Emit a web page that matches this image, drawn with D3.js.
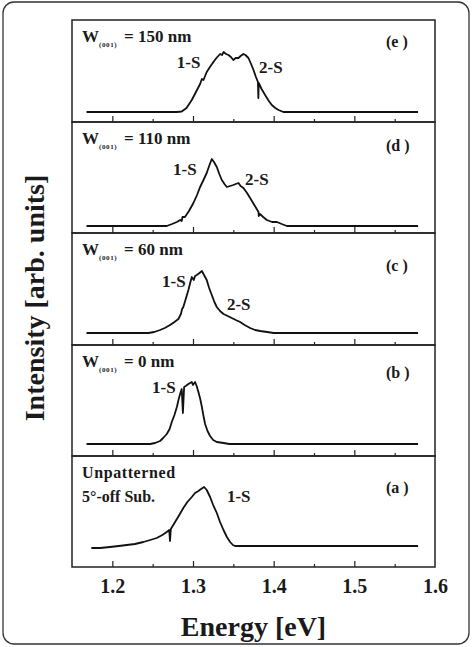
<!DOCTYPE html>
<head>
  <meta charset="utf-8">
  <script src="https://d3js.org/d3.v7.min.js"></script>
  <style>
    body { margin: 0; background: #fff; }
    text { font-family: "Liberation Serif", "Times New Roman", Times, Tinos, serif; font-weight: 700; fill: #1a1a1a; }
  </style>
</head>
<body>
<div id="chart"></div>
<script>
// spectra, top panel (e) first; [energy eV, intensity arb.]
var spectrumE = [[1.168,0],[1.28,0],[1.286,0.5],[1.292,4],[1.2985,12],[1.303,19],[1.3088,28],[1.311,33],[1.313,32],[1.317,40],[1.321,45],[1.3253,50],[1.329,54],[1.3336,58],[1.336,57],[1.338,60],[1.341,58],[1.344,57],[1.347,55],[1.350,52],[1.353,54],[1.3564,54],[1.359,56],[1.3625,58],[1.365,57],[1.3687,54],[1.372,48],[1.375,42],[1.378,35],[1.3805,30],[1.381,14],[1.3815,29],[1.385,23],[1.3894,17],[1.394,11],[1.3977,7],[1.402,4],[1.406,2],[1.412,0],[1.579,0]];
var spectrumD = [[1.168,0],[1.2675,0],[1.274,2],[1.28,4],[1.284,6],[1.286,5],[1.287,9],[1.290,9],[1.295,15],[1.3005,23],[1.305,31],[1.3088,39],[1.313,46],[1.317,53],[1.320,60],[1.3233,67],[1.326,64],[1.3295,59],[1.3326,52],[1.3357,46],[1.339,42],[1.342,39],[1.346,40],[1.350,41],[1.353,42],[1.3564,43],[1.359,40],[1.3625,38],[1.367,33],[1.3708,28],[1.376,21],[1.3812,14],[1.3815,10],[1.383,12],[1.387,9],[1.3915,6],[1.398,4],[1.404,4],[1.410,2],[1.4164,0],[1.579,0]];
var spectrumC = [[1.168,0],[1.2447,0],[1.252,1],[1.2592,3],[1.265,5],[1.2716,8],[1.277,11],[1.2819,14],[1.285,19],[1.2865,24],[1.288,26],[1.291,34],[1.2943,43],[1.2965,50],[1.2985,56],[1.301,53],[1.3025,57],[1.3047,58],[1.308,60],[1.311,62],[1.313,59],[1.317,53],[1.320,45],[1.3233,38],[1.3265,31],[1.3295,26],[1.3335,22],[1.3378,19],[1.343,17],[1.348,15],[1.353,13],[1.3585,11],[1.364,8],[1.3708,5],[1.377,3],[1.3833,2],[1.392,1],[1.40,0],[1.579,0]];
var spectrumB = [[1.168,0],[1.2468,0],[1.253,1],[1.2592,3],[1.263,6],[1.2675,10],[1.271,15],[1.2737,22],[1.277,29],[1.28,37],[1.282,44],[1.284,50],[1.286,55],[1.2875,31],[1.289,57],[1.291,58],[1.2943,60],[1.2985,62],[1.300,59],[1.3026,62],[1.3045,58],[1.3067,52],[1.309,45],[1.311,37],[1.313,28],[1.315,20],[1.318,13],[1.3212,8],[1.325,4],[1.3295,2],[1.338,1],[1.345,0],[1.579,0]];
var spectrumA = [[1.174,-2],[1.185,-2],[1.197,-1],[1.208,0],[1.218,1],[1.228,2],[1.2385,4],[1.247,6],[1.255,8],[1.262,11],[1.2675,14],[1.2705,16],[1.2715,5],[1.2725,17],[1.2778,24],[1.283,31],[1.288,38],[1.293,44],[1.2985,49],[1.3025,53],[1.3067,55],[1.310,57],[1.3138,59],[1.317,56],[1.3212,49],[1.325,41],[1.3295,33],[1.3335,24],[1.3378,16],[1.342,9],[1.346,4],[1.3495,1],[1.3522,0],[1.579,0]];

var spectra = [spectrumE, spectrumD, spectrumC, spectrumB, spectrumA];
var panelTags = ["(e )", "(d )", "(c )", "(b )", "(a )"];
var widths = ["150", "110", "60", "0", null];
// peak labels per panel: [text, energy, intensity]
var peakLabels = [
  [["1-S", 1.280, 44], ["2-S", 1.3818, 39]],
  [["1-S", 1.2752, 51], ["2-S", 1.3645, 41]],
  [["1-S", 1.2616, 46], ["2-S", 1.3421, 23]],
  [["1-S", 1.2492, 51]],
  [["1-S", 1.3421, 44]]
];
var majorTicks = [1.2, 1.3, 1.4, 1.5, 1.6];
var minorTicks = [1.25, 1.35, 1.45, 1.55];

var W = 473, H = 647;
var left = 72, right = 435;
var panelTop = [20, 122, 233, 345, 456], plotBottom = 567;
var panelFloor = [-10, -7, -12, -12, -21];   // intensity shown at panel bottom
var tagDy = [27, 29, 38, 33, 37];

var svg = d3.select("#chart").append("svg")
  .attr("width", W).attr("height", H);

svg.append("rect")
  .attr("x", 3).attr("y", 2).attr("width", 466).attr("height", 642)
  .attr("rx", 11).attr("fill", "none").attr("stroke", "#333").attr("stroke-width", 1.3);

var x = d3.scaleLinear().domain([1.15, 1.6]).range([left, right]);

var line = d3.line();

spectra.forEach(function (data, i) {
  var top = panelTop[i];
  var bottom = i < 4 ? panelTop[i + 1] : plotBottom;
  var y = d3.scaleLinear()
    .domain([panelFloor[i], panelFloor[i] + (bottom - top)])
    .range([bottom, top]);

  var g = svg.append("g");

  g.append("rect")
    .attr("x", left).attr("y", top)
    .attr("width", right - left).attr("height", bottom - top)
    .attr("fill", "none").attr("stroke", "#222").attr("stroke-width", 1.5);

  // inward ticks along the bottom of each panel
  var major = g.append("g").attr("transform", "translate(0," + bottom + ")")
    .call(d3.axisTop(x).tickValues(majorTicks.slice(0, 4)).tickSize(6).tickFormat(""));
  var minor = g.append("g").attr("transform", "translate(0," + bottom + ")")
    .call(d3.axisTop(x).tickValues(minorTicks).tickSize(3).tickFormat(""));
  [major, minor].forEach(function (a) {
    a.select(".domain").remove();
    a.selectAll("line").attr("stroke", "#222").attr("stroke-width", 1.2);
  });

  line.x(function (d) { return x(d[0]); }).y(function (d) { return y(d[1]); });
  g.append("path")
    .attr("d", line(data))
    .attr("fill", "none")
    .attr("stroke", "#111")
    .attr("stroke-width", 1.8)
    .attr("stroke-linejoin", "round");

  peakLabels[i].forEach(function (p) {
    g.append("text")
      .attr("x", x(p[1])).attr("y", y(p[2]))
      .style("font-size", "17px")
      .text(p[0]);
  });

  g.append("text")
    .attr("x", 386).attr("y", top + tagDy[i])
    .style("font-size", "16px")
    .text(panelTags[i]);

  if (widths[i] !== null) {
    g.append("text").attr("x", 82).attr("y", top + 22)
      .style("font-size", "17px").text("W");
    g.append("text").attr("x", 99).attr("y", top + 27)
      .style("font-size", "7px").style("letter-spacing", "0.6px").text("(001)");
    g.append("text").attr("x", 124).attr("y", top + 22)
      .style("font-size", "17px").text("= " + widths[i] + " nm");
  } else {
    g.append("text").attr("x", 82).attr("y", top + 22)
      .style("font-size", "16px").style("letter-spacing", "0.6px").text("Unpatterned");
    g.append("text").attr("x", 82).attr("y", top + 46)
      .style("font-size", "16px").text("5°-off Sub.");
  }
});

// tick labels under bottom panel
var labels = svg.append("g").attr("transform", "translate(0," + plotBottom + ")")
  .call(d3.axisBottom(x).tickValues(majorTicks).tickSize(0).tickPadding(12)
    .tickFormat(d3.format(".1f")));
labels.select(".domain").remove();
labels.attr("font-family", null).attr("font-size", null);
labels.selectAll("text").style("font-size", "20px").attr("fill", "#1a1a1a");

svg.append("text")
  .attr("x", (left + right) / 2).attr("y", 636)
  .attr("text-anchor", "middle")
  .style("font-size", "28px")
  .text("Energy [eV]");

svg.append("text")
  .attr("transform", "translate(44,298) rotate(-90)")
  .attr("text-anchor", "middle")
  .style("font-size", "28px")
  .text("Intensity [arb. units]");
</script>
</body>
</html>
